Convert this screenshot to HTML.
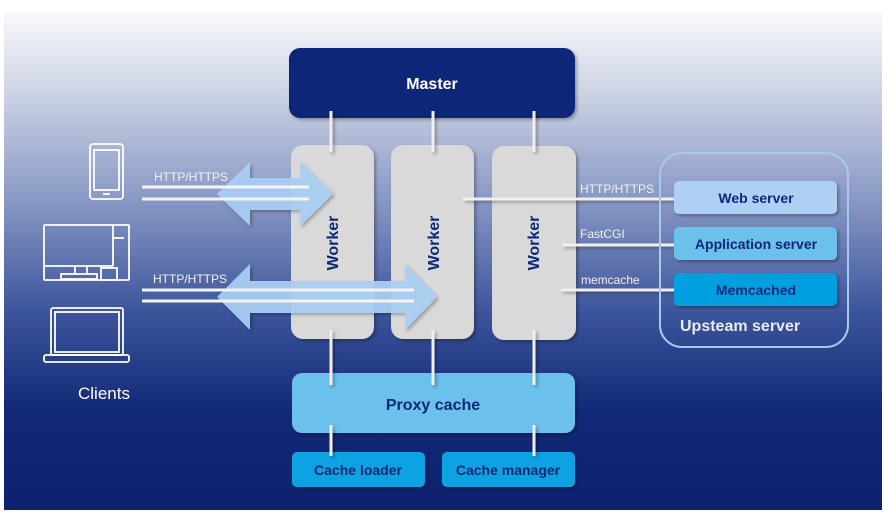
<!DOCTYPE html>
<html><head><meta charset="utf-8"><style>
html,body{margin:0;padding:0;background:#fff;width:884px;height:516px;overflow:hidden}
svg{display:block;font-family:"Liberation Sans",sans-serif}
</style></head><body>
<svg width="884" height="516" viewBox="0 0 884 516" xmlns="http://www.w3.org/2000/svg">
<defs>
<linearGradient id="bg" x1="0" y1="0" x2="0" y2="1">
<stop offset="0" stop-color="#f9f9fb"/>
<stop offset="0.15" stop-color="#d0d6e6"/>
<stop offset="0.38" stop-color="#8797c4"/>
<stop offset="0.6" stop-color="#3d559c"/>
<stop offset="0.8" stop-color="#122977"/>
<stop offset="1" stop-color="#0d226f"/>
</linearGradient>
<filter id="sh" x="-10%" y="-10%" width="130%" height="130%"><feDropShadow dx="2" dy="2" stdDeviation="1.5" flood-color="#000" flood-opacity="0.3"/></filter>
</defs>
<rect x="4" y="13" width="878" height="497" fill="url(#bg)"/>

<!-- Master -->
<rect x="289" y="48" width="286" height="70" rx="11" fill="#0c2878" filter="url(#sh)"/>
<text x="432" y="89" text-anchor="middle" font-size="16" font-weight="bold" fill="#fff">Master</text>

<!-- Workers -->
<g fill="#d9d9d9" filter="url(#sh)">
<rect x="291" y="145" width="83" height="194" rx="12"/>
<rect x="391" y="145" width="83" height="194" rx="12"/>
<rect x="492" y="146" width="84" height="194" rx="12"/>
</g>
<g font-size="16" font-weight="bold" fill="#0c2878" text-anchor="middle">
<text transform="translate(338,243) rotate(-90)">Worker</text>
<text transform="translate(439,243) rotate(-90)">Worker</text>
<text transform="translate(539,243) rotate(-90)">Worker</text>
</g>

<!-- Proxy cache -->
<rect x="292" y="373" width="283" height="60" rx="10" fill="#6cc0ec" filter="url(#sh)"/>
<text x="433" y="410" text-anchor="middle" font-size="16" font-weight="bold" fill="#0c2878">Proxy cache</text>
<rect x="292" y="452" width="133" height="35" rx="5" fill="#10a2e2" filter="url(#sh)"/>
<rect x="442" y="452" width="133" height="35" rx="5" fill="#10a2e2" filter="url(#sh)"/>
<text x="358" y="475" text-anchor="middle" font-size="14" font-weight="bold" fill="#0c2878">Cache loader</text>
<text x="508" y="475" text-anchor="middle" font-size="14" font-weight="bold" fill="#0c2878">Cache manager</text>

<!-- connectors -->
<g stroke="#f0f0f0" stroke-width="3" filter="url(#sh)">
<line x1="331" y1="111" x2="331" y2="152"/>
<line x1="433" y1="111" x2="433" y2="152"/>
<line x1="534" y1="111" x2="534" y2="152"/>
<line x1="331" y1="330" x2="331" y2="385"/>
<line x1="433" y1="330" x2="433" y2="385"/>
<line x1="534" y1="330" x2="534" y2="385"/>
<line x1="331" y1="425" x2="331" y2="456"/>
<line x1="534" y1="425" x2="534" y2="456"/>
<line x1="463" y1="199" x2="680" y2="199"/>
<line x1="562" y1="245" x2="680" y2="245"/>
<line x1="561" y1="290" x2="680" y2="290"/>
</g>
<g font-size="12" fill="#f2f2f2">
<text x="580" y="193">HTTP/HTTPS</text>
<text x="580" y="238">FastCGI</text>
<text x="581" y="284">memcache</text>
</g>

<!-- Upstream -->
<rect x="660" y="153" width="188" height="194" rx="22" fill="none" stroke="#a8c8ee" stroke-width="2"/>
<rect x="674" y="181" width="163" height="33" rx="5" fill="#aed0f4" filter="url(#sh)"/>
<rect x="674" y="227" width="163" height="33" rx="5" fill="#6cc0ec" filter="url(#sh)"/>
<rect x="674" y="273" width="163" height="33" rx="5" fill="#00a0e0" filter="url(#sh)"/>
<g font-size="14" font-weight="bold" fill="#0c2878" text-anchor="middle">
<text x="756" y="203">Web server</text>
<text x="756" y="249">Application server</text>
<text x="756" y="295">Memcached</text>
</g>
<text x="680" y="331" font-size="16" font-weight="bold" fill="#e6ecf8">Upsteam server</text>

<!-- arrows -->
<g fill="#a9cff4" fill-opacity="0.92" filter="url(#sh)">
<polygon points="217,194 250,162 250,178 300,178 300,162 333,194 300,226 300,210 250,210 250,226"/>
<polygon points="217,297 250,264 250,281 405,281 405,264 437,297 405,330 405,313 250,313 250,330"/>
</g>
<g stroke="#f4f4f4" stroke-width="3">
<line x1="142" y1="187" x2="309" y2="187"/>
<line x1="142" y1="199" x2="309" y2="199"/>
<line x1="142" y1="290" x2="414" y2="290"/>
<line x1="142" y1="301" x2="414" y2="301"/>
</g>
<g font-size="12" fill="#f2f2f2">
<text x="154" y="181">HTTP/HTTPS</text>
<text x="153" y="283">HTTP/HTTPS</text>
</g>

<!-- client icons -->
<g fill="none" stroke="#fff" stroke-width="1.8">
<rect x="90" y="144" width="33" height="55" rx="3"/>
<rect x="94" y="150" width="25" height="40"/>
<line x1="103" y1="194" x2="110" y2="194"/>
<rect x="44" y="225" width="85" height="55" rx="1"/>
<line x1="44" y1="266" x2="113" y2="266"/>
<line x1="113" y1="225" x2="113" y2="266"/>
<line x1="113" y1="238" x2="124" y2="238"/>
<line x1="75" y1="266" x2="75" y2="274"/>
<line x1="87" y1="266" x2="87" y2="274"/>
<rect x="61" y="274" width="36" height="5"/>
<rect x="101" y="268" width="16" height="12"/>
<rect x="51" y="308" width="72" height="47" rx="2"/>
<rect x="55" y="312" width="64" height="40"/>
<rect x="44" y="355" width="85" height="7" rx="2"/>
</g>
<text x="78" y="399" font-size="17" fill="#fff">Clients</text>
</svg>
</body></html>
